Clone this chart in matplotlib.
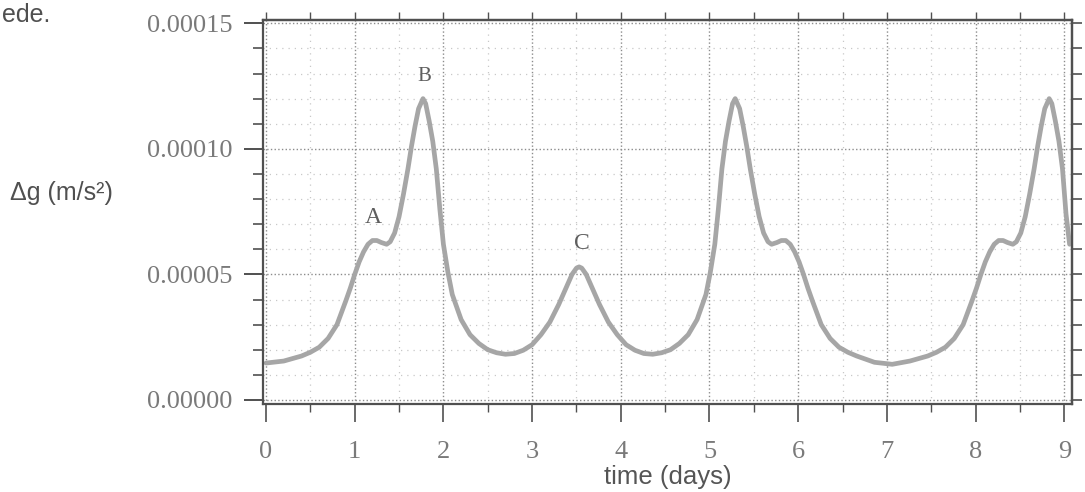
import numpy as np
import matplotlib.pyplot as plt
from matplotlib.ticker import MultipleLocator, FormatStrFormatter

# time in days and tidal gravity change (in units of 1e-5 m/s^2)
time_days = [
    0.00, 0.20, 0.40, 0.50, 0.60, 0.70, 0.80, 0.90, 0.95, 1.00,
    1.05, 1.10, 1.15, 1.20, 1.25, 1.30, 1.36, 1.40, 1.45, 1.50,
    1.55, 1.60, 1.64, 1.68, 1.72, 1.77, 1.80, 1.84, 1.88, 1.92,
    1.96, 2.00, 2.05, 2.10, 2.20, 2.30, 2.40, 2.50, 2.60, 2.70,
    2.80, 2.90, 3.00, 3.10, 3.20, 3.30, 3.40, 3.45, 3.50, 3.53,
    3.56, 3.61, 3.66, 3.76, 3.86, 3.96, 4.06, 4.16, 4.26, 4.36,
    4.46, 4.56, 4.66, 4.76, 4.86, 4.96, 5.01, 5.06, 5.10, 5.14,
    5.18, 5.22, 5.26, 5.29, 5.34, 5.38, 5.42, 5.46, 5.51, 5.56,
    5.61, 5.66, 5.70, 5.76, 5.81, 5.86, 5.91, 5.96, 6.01, 6.06,
    6.11, 6.16, 6.26, 6.36, 6.46, 6.56, 6.66, 6.86, 7.06, 7.26,
    7.46, 7.56, 7.66, 7.76, 7.86, 7.96, 8.01, 8.06, 8.11, 8.16,
    8.21, 8.26, 8.31, 8.36, 8.42, 8.46, 8.51, 8.56, 8.61, 8.66,
    8.70, 8.74, 8.78, 8.83, 8.86, 8.90, 8.94, 8.98, 9.02, 9.06,
]
delta_g_e5 = [
    1.47, 1.55, 1.75, 1.90, 2.10, 2.45, 3.00, 3.95, 4.45, 5.00,
    5.50, 5.90, 6.20, 6.35, 6.35, 6.27, 6.20, 6.30, 6.65, 7.30,
    8.20, 9.20, 10.1, 10.9, 11.6, 12.0, 11.8, 11.1, 10.3, 9.20,
    7.60, 6.20, 5.10, 4.20, 3.20, 2.60, 2.25, 2.00, 1.88, 1.82,
    1.85, 1.98, 2.20, 2.60, 3.10, 3.80, 4.60, 5.00, 5.25, 5.30,
    5.25, 5.00, 4.60, 3.80, 3.10, 2.60, 2.20, 1.98, 1.85, 1.82,
    1.88, 2.00, 2.25, 2.60, 3.20, 4.20, 5.10, 6.20, 7.60, 9.20,
    10.3, 11.1, 11.8, 12.0, 11.6, 10.9, 10.1, 9.20, 8.20, 7.30,
    6.65, 6.30, 6.20, 6.27, 6.35, 6.35, 6.20, 5.90, 5.50, 5.00,
    4.45, 3.95, 3.00, 2.45, 2.10, 1.90, 1.75, 1.50, 1.42, 1.55,
    1.75, 1.90, 2.10, 2.45, 3.00, 3.95, 4.45, 5.00, 5.50, 5.90,
    6.20, 6.35, 6.35, 6.27, 6.20, 6.30, 6.65, 7.30, 8.20, 9.20,
    10.1, 10.9, 11.6, 12.0, 11.8, 11.1, 10.3, 9.20, 7.40, 6.20,
]

peak_names = ['A', 'B', 'C']
peak_t = [1.21, 1.79, 3.56]
peak_g = [7.27e-5, 12.87e-5, 6.25e-5]
peak_size = [17, 15, 17]

t = np.array(time_days)
g = np.array(delta_g_e5) * 1e-5

fig = plt.figure(figsize=(10.85, 4.92), dpi=100)
ax = fig.add_axes([0.2424, 0.1789, 0.7456, 0.7804])

ax.plot(t, g, color='#a6a6a6', lw=3.4, solid_capstyle='round')

for name, x, y, fs in zip(peak_names, peak_t, peak_g, peak_size):
    ax.text(x, y, name, family='Liberation Serif', fontsize=fs,
            color='#5e5e5e', ha='center', va='center')

ax.set_xlim(-0.034, 9.087)
ax.set_ylim(-1.6e-6, 0.0001513)

frame = '#505050'
for s in ax.spines.values():
    s.set_color(frame)
    s.set_linewidth(1.6)

ax.xaxis.set_major_locator(MultipleLocator(1))
ax.xaxis.set_minor_locator(MultipleLocator(0.5))
ax.yaxis.set_major_locator(MultipleLocator(0.00005))
ax.yaxis.set_minor_locator(MultipleLocator(0.00001))
ax.yaxis.set_major_formatter(FormatStrFormatter('%.5f'))

ax.tick_params(axis='x', which='major', direction='out', length=13, width=1.2,
               color=frame, pad=14, labelsize=19, labelcolor='#7a7a7a')
ax.tick_params(axis='x', which='minor', direction='out', length=6, width=1.0, color=frame)
ax.tick_params(axis='y', which='major', direction='out', length=14, width=1.4,
               color=frame, pad=8, labelsize=19, labelcolor='#7a7a7a')
ax.tick_params(axis='y', which='minor', direction='out', length=7, width=1.2, color=frame)
for lab in ax.get_xticklabels() + ax.get_yticklabels():
    lab.set_family('Liberation Serif')

ax.grid(which='major', linestyle=':', color='#8c8c8c', lw=1.0)
ax.grid(which='minor', linestyle=(0, (1, 4)), color='#c8c8c8', lw=0.9)

top = ax.secondary_xaxis('top')
top.xaxis.set_major_locator(MultipleLocator(0.5))
top.tick_params(direction='out', length=6, width=1.0, color=frame, labeltop=False)
top.spines['top'].set_color(frame)
top.spines['top'].set_linewidth(1.6)

right = ax.secondary_yaxis('right')
right.yaxis.set_major_locator(MultipleLocator(0.00001))
right.tick_params(direction='out', length=7, width=1.2, color=frame, labelright=False)
right.spines['right'].set_color(frame)
right.spines['right'].set_linewidth(1.6)

ax.set_xlabel('time (days)', family='Liberation Sans', fontsize=18.5, color='#555555')
ax.xaxis.label.set_va('baseline')
ax.xaxis.set_label_coords(0.5, -0.2083)

fig.text(10 / 1085, 1 - 193 / 492, '\u0394g (m/s\u00b2)', family='Liberation Sans',
         fontsize=18, color='#505050', ha='left', va='center')
fig.text(2 / 1085, 1 - 3 / 492, 'ede.', family='Liberation Sans',
         fontsize=18, color='#505050', ha='left', va='top')

fig.savefig('out.png', dpi=100)
